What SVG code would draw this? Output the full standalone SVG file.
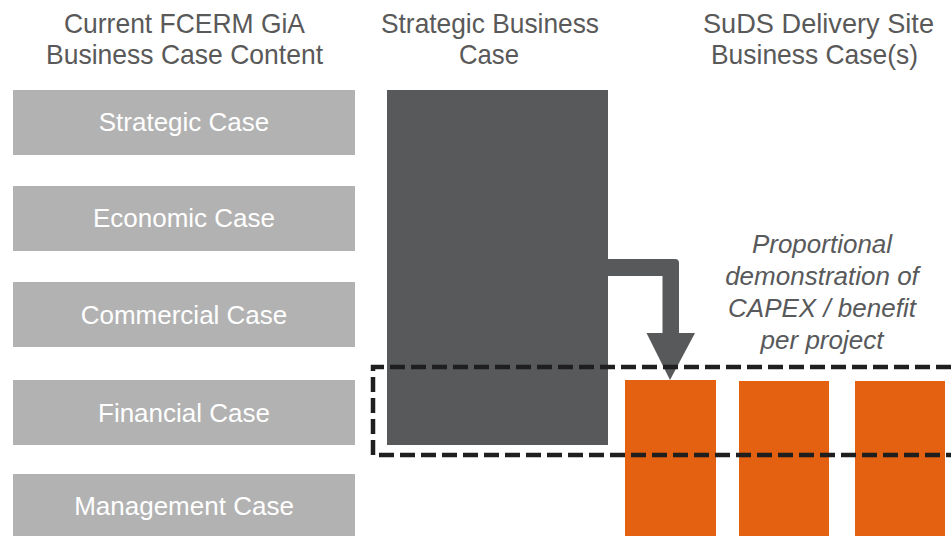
<svg xmlns="http://www.w3.org/2000/svg" width="951" height="536" viewBox="0 0 951 536">
<style>
.hd{font-family:"Liberation Sans",Arial,sans-serif;font-size:28px;fill:#595959;text-anchor:middle}
.bx{fill:#b2b2b2}
.bt{font-family:"Liberation Sans",Arial,sans-serif;font-size:26px;fill:#ffffff;text-anchor:middle}
.or{fill:#e36110}
.it{font-family:"Liberation Sans",Arial,sans-serif;font-size:26px;font-style:italic;fill:#58595b;text-anchor:middle}
</style>
<rect width="951" height="536" fill="#ffffff"/>
<g id="headings">
<text class="hd" x="184.5" y="33" textLength="241" lengthAdjust="spacingAndGlyphs">Current FCERM GiA</text>
<text class="hd" x="184.5" y="64" textLength="277" lengthAdjust="spacingAndGlyphs">Business Case Content</text>
<text class="hd" x="490" y="33" textLength="218" lengthAdjust="spacingAndGlyphs">Strategic Business</text>
<text class="hd" x="489" y="64" textLength="60" lengthAdjust="spacingAndGlyphs">Case</text>
<text class="hd" x="818.5" y="33" textLength="231" lengthAdjust="spacingAndGlyphs">SuDS Delivery Site</text>
<text class="hd" x="814.5" y="64" textLength="207" lengthAdjust="spacingAndGlyphs">Business Case(s)</text>
</g>
<g id="strategic-case"><rect class="bx" x="13" y="90" width="342" height="65"/><text class="bt" x="184" y="131">Strategic Case</text></g>
<g id="economic-case"><rect class="bx" x="13" y="186" width="342" height="65"/><text class="bt" x="184" y="227">Economic Case</text></g>
<g id="commercial-case"><rect class="bx" x="13" y="282" width="342" height="65"/><text class="bt" x="184" y="324">Commercial Case</text></g>
<g id="financial-case"><rect class="bx" x="13" y="380" width="342" height="65"/><text class="bt" x="184" y="422">Financial Case</text></g>
<g id="management-case"><rect class="bx" x="13" y="474" width="342" height="62"/><text class="bt" x="184" y="515">Management Case</text></g>
<g id="strategic-business-case"><rect x="387" y="90" width="221" height="355" fill="#58595b"/></g>
<g id="site-1"><rect class="or" x="625" y="380" width="91" height="156"/></g>
<g id="site-2"><rect class="or" x="739" y="381" width="90" height="155"/></g>
<g id="site-3"><rect class="or" x="855" y="381" width="90" height="155"/></g>
<g id="note">
<text class="it" x="822" y="253">Proportional</text>
<text class="it" x="822" y="285">demonstration of</text>
<text class="it" x="822" y="317">CAPEX / benefit</text>
<text class="it" x="822" y="349">per project</text>
</g>
<g id="connectors">
<path d="M607,259 H675 Q679,259 679,263 V333 H695 L670,380 L646.5,333 H662.5 V276 H607 Z" fill="#58595b"/>
<path d="M951,367 H373 V455 H951" fill="none" stroke="#1f1f1f" stroke-width="4.5" stroke-dasharray="15 6"/>
</g>
</svg>
